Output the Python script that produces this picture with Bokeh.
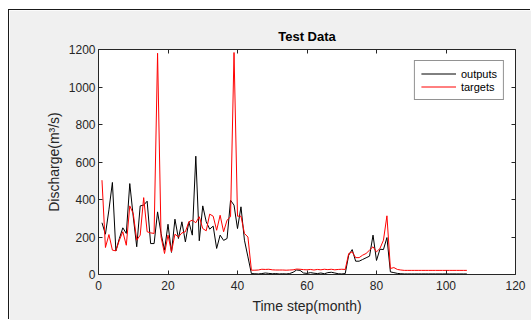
from bokeh.plotting import figure
from bokeh.models import LinearAxis, Legend, FixedTicker
from bokeh.embed import file_html
from bokeh.resources import INLINE

months = list(range(1, 107))

outputs = [276, 215, 345, 491, 126, 192, 249, 219, 485, 308,
           148, 366, 370, 391, 165, 165, 334, 219, 130, 268,
           118, 295, 192, 281, 174, 281, 210, 631, 180, 366,
           281, 242, 258, 139, 210, 182, 192, 396, 370, 245,
           361, 183, 94, 5, 4, 3, 5, 8, 6, 4,
           5, 3, 4, 3, 5, 12, 24, 22, 8, 6,
           10, 7, 5, 8, 4, 10, 12, 8, 4, 3,
           5, 103, 133, 71, 71, 80, 89, 98, 210, 75,
           135, 133, 197, 14, 10, 6, 4, 3, 3, 3,
           3, 3, 3, 3, 3, 3, 3, 3, 3, 3,
           3, 3, 3, 3, 3, 3]

targets = [503, 144, 213, 130, 126, 183, 228, 156, 366, 325,
           183, 210, 410, 228, 222, 219, 1180, 200, 112, 210,
           121, 215, 200, 222, 228, 281, 290, 276, 308, 245,
           233, 322, 311, 236, 316, 228, 290, 308, 1184, 311,
           311, 219, 200, 23, 23, 24, 28, 27, 28, 25,
           24, 24, 24, 23, 24, 25, 29, 28, 26, 25,
           27, 24, 27, 25, 28, 26, 28, 25, 27, 28,
           27, 112, 121, 90, 90, 103, 112, 130, 148, 121,
           139, 183, 313, 32, 37, 27, 24, 22, 22, 22,
           22, 22, 22, 22, 22, 22, 22, 22, 22, 22,
           22, 22, 22, 22, 22, 22]

x_ticks = [0, 20, 40, 60, 80, 100, 120]
y_ticks = [0, 200, 400, 600, 800, 1000, 1200]

AX = "#262626"
FONT = "Liberation Sans"

p = figure(width=522, height=310, x_range=(0, 120), y_range=(0, 1200),
           output_backend="svg", toolbar_location=None, title="Test Data",
           min_border_left=89, min_border_right=16,
           min_border_top=39, min_border_bottom=46)
p.styles = {"margin-left": "9px", "margin-top": "10px",
            "box-shadow": "-1px -1px 0px 0px #1a1a1a"}
p.border_fill_color = "#f0f0f0"
p.background_fill_color = "white"
p.outline_line_color = AX
p.outline_line_width = 1
p.grid.visible = False

p.title.align = "center"
p.title.text_font = FONT
p.title.text_font_size = "13px"
p.title.text_font_style = "bold"
p.title.text_color = "black"
p.title.standoff = 12

for ax, ticks in ((p.xaxis[0], x_ticks), (p.yaxis[0], y_ticks)):
    ax.ticker = FixedTicker(ticks=ticks)
    ax.major_tick_in = 4
    ax.major_tick_out = 0
    ax.major_tick_line_color = AX
    ax.minor_tick_line_color = None
    ax.axis_line_color = None
    ax.major_label_text_font = FONT
    ax.major_label_text_font_size = "12px"
    ax.major_label_text_color = AX
    ax.axis_label_text_font = FONT
    ax.axis_label_text_font_size = "14px"
    ax.axis_label_text_font_style = "normal"
    ax.axis_label_text_color = AX

p.xaxis[0].axis_label = "Time step(month)"
p.yaxis[0].axis_label = "Discharge(m³/s)"
p.xaxis[0].major_label_standoff = 6
p.xaxis[0].axis_label_standoff = 5
p.yaxis[0].major_label_standoff = 3
p.yaxis[0].axis_label_standoff = 4

for loc, ticks in (("above", x_ticks), ("right", y_ticks)):
    a = LinearAxis(ticker=FixedTicker(ticks=ticks), major_label_text_color=None,
                   major_label_text_font_size="1px",
                   axis_line_color=None, major_tick_in=4, major_tick_out=0,
                   major_tick_line_color=AX, minor_tick_line_color=None,
                   major_label_standoff=0)
    p.add_layout(a, loc)

r1 = p.line(months, outputs, line_color="black", line_width=1)
r2 = p.line(months, targets, line_color="red", line_width=1)

legend = Legend(items=[("outputs", [r1]), ("targets", [r2])], location="top_right")
legend.margin = 11
legend.padding = 6
legend.spacing = 0
legend.glyph_width = 35
legend.glyph_height = 13
legend.label_height = 13
legend.label_standoff = 5
legend.label_text_font = FONT
legend.label_text_font_size = "11px"
legend.label_text_color = "black"
legend.border_line_color = AX
legend.border_line_width = 1
legend.background_fill_color = "white"
legend.background_fill_alpha = 1
p.add_layout(legend)

open("out.html", "w").write(file_html(p, INLINE))
